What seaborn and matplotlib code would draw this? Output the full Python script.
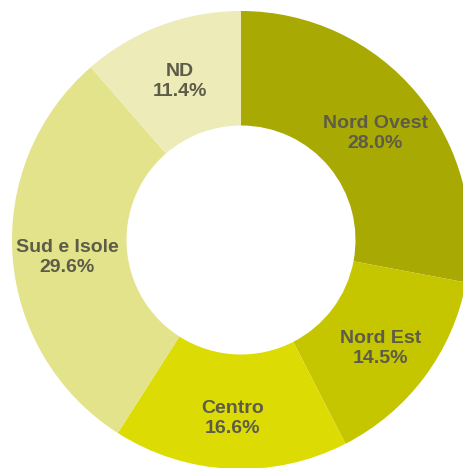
import matplotlib
matplotlib.use("Agg")
import matplotlib.pyplot as plt
import seaborn as sns
import numpy as np

categories = ["Nord Ovest", "Nord Est", "Centro", "Sud e Isole", "ND"]
values = [28.0, 14.5, 16.6, 29.6, 11.4]
colors = ["#A9A904", "#C5C500", "#DCDC04", "#E2E38B", "#EDEBB8"]

sns.set_style("white")
plt.rcParams['font.family'] = ['Liberation Sans', 'DejaVu Sans']

fig = plt.figure(figsize=(4.64, 4.68), dpi=100)
ax = fig.add_axes([0, 0, 1, 1])
wedges, _ = ax.pie(values, colors=colors, startangle=90, counterclock=False,
                   radius=1.0, wedgeprops=dict(width=0.5, linewidth=0))

for w, name, v in zip(wedges, categories, values):
    ang = np.deg2rad((w.theta1 + w.theta2) / 2)
    r = 0.76
    ax.text(r * np.cos(ang), r * np.sin(ang) - 0.02, f"{name}\n{v:.1f}%",
            ha="center", va="center", fontsize=14, fontweight="bold",
            color="#5C5C48", linespacing=1.2)

ax.set_aspect("auto")
R = 229.0
ax.set_xlim(-241 / R, (464 - 241) / R)
ax.set_ylim(-(468 - 240) / R, 240 / R)
ax.axis("off")
fig.savefig("out.png", dpi=100)
